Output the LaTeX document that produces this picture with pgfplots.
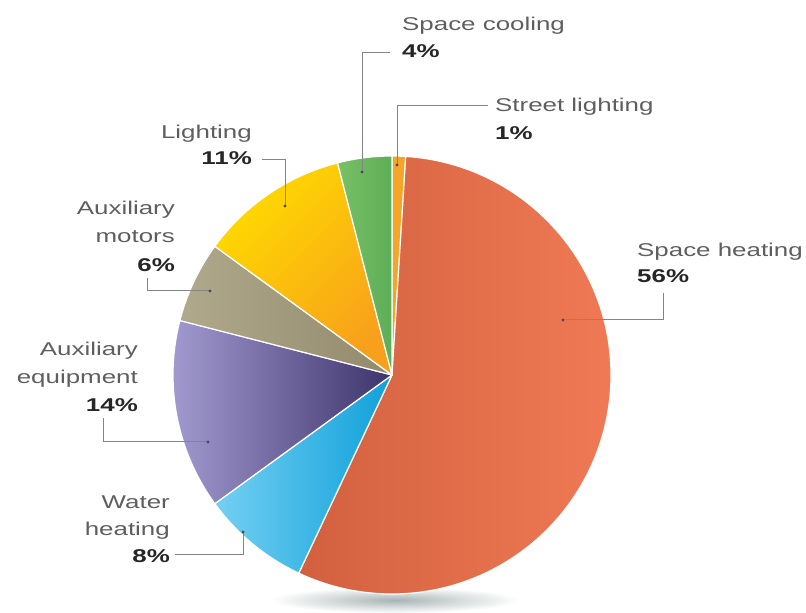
\documentclass[border=0pt]{standalone}
\usepackage{fontspec}
\usepackage{pgfplots}
\pgfplotsset{compat=1.18}
\newfontfamily\lbl[FakeStretch=1.4]{Liberation Sans}
\definecolor{slA}{HTML}{F5A52A}
\definecolor{shL}{HTML}{D2603F}\definecolor{shR}{HTML}{F07A55}
\definecolor{whL}{HTML}{74D0F2}\definecolor{whR}{HTML}{0FA0DA}
\definecolor{aeL}{HTML}{A59ED3}\definecolor{aeR}{HTML}{3E336C}
\definecolor{amL}{HTML}{B0A98C}\definecolor{amR}{HTML}{938A6C}
\definecolor{liL}{HTML}{FFDA00}\definecolor{liR}{HTML}{F8A01C}
\definecolor{scL}{HTML}{78C066}\definecolor{scR}{HTML}{5DAE57}
\definecolor{labgray}{HTML}{5E5E5E}
\definecolor{leader}{HTML}{858585}
\definecolor{shadowc}{HTML}{A9B4B4}
\def\cum{0}
% \slice{value in %}{left colour}{right colour}{shading angle}
\newcommand\slice[4]{%
  \pgfmathsetmacro\aS{90-3.6*\cum}%
  \pgfmathsetmacro\aE{90-3.6*(\cum+#1)}%
  \edef\doslice{\noexpand\shadedraw[left color=#2,right color=#3,shading angle=#4,draw=white,line width=1.2pt,line join=round]
    (axis cs:392,238) -- ++(\aS:219pt) arc[start angle=\aS,end angle=\aE,radius=219pt] -- cycle;}%
  \doslice
  \pgfmathsetmacro\cumnew{\cum+#1}\global\let\cum\cumnew
}
\tikzset{
  nm/.style={font=\lbl\fontsize{18.5}{20}\selectfont, text=labgray, inner sep=0pt},
  pc/.style={font=\lbl\bfseries\fontsize{18.5}{20}\selectfont, text=black!85, inner sep=0pt},
  ld/.style={draw=leader, line width=1pt},
}
\newcommand\dotat[1]{\fill[black!70] (axis cs:#1) circle[radius=1.6pt];}
\begin{document}
\begin{tikzpicture}
\begin{axis}[
  scale only axis, width=806pt, height=613pt,
  xmin=0, xmax=806, ymin=0, ymax=613,
  hide axis, clip=false,
]
\path (axis cs:0,0) rectangle (axis cs:806,613);
% shadow
\shade[inner color=shadowc, outer color=white] (axis cs:395,13) ellipse[x radius=125pt, y radius=13pt];
% slices, clockwise from the top
\slice{1}{slA}{slA}{90}   % Street lighting
\slice{56}{shL}{shR}{90}  % Space heating
\slice{8}{whL}{whR}{90}   % Water heating
\slice{14}{aeL}{aeR}{90}  % Auxiliary equipment
\slice{6}{amL}{amR}{90}   % Auxiliary motors
\slice{11}{liL}{liR}{45}  % Lighting
\slice{4}{scL}{scR}{90}   % Space cooling
% leader lines
\draw[ld] (axis cs:390,560) -- (axis cs:362,560) -- (axis cs:362,441); \dotat{362,441}
\draw[ld] (axis cs:488,507) -- (axis cs:397,507) -- (axis cs:397,448); \dotat{397,448}
\draw[ld] (axis cs:262,453) -- (axis cs:285,453) -- (axis cs:285,407); \dotat{285,407}
\draw[ld] (axis cs:147,335) -- (axis cs:147,322) -- (axis cs:210,322); \dotat{210,322}
\draw[ld] (axis cs:103,195) -- (axis cs:103,171) -- (axis cs:208,171); \dotat{208,171}
\draw[ld] (axis cs:175,58) -- (axis cs:243,58) -- (axis cs:243,81); \dotat{243,81}
\draw[ld] (axis cs:663,320) -- (axis cs:663,293) -- (axis cs:563,293); \dotat{563,293}
% labels
\node[nm, anchor=base west] at (axis cs:402,582) {Space cooling};
\node[pc, anchor=base west] at (axis cs:402,555) {4\%};
\node[nm, anchor=base west] at (axis cs:495,501) {Street lighting};
\node[pc, anchor=base west] at (axis cs:495,473) {1\%};
\node[nm, anchor=base west] at (axis cs:637,356) {Space heating};
\node[pc, anchor=base west] at (axis cs:637,330) {56\%};
\node[nm, anchor=base east] at (axis cs:252,474) {Lighting};
\node[pc, anchor=base east] at (axis cs:252,448) {11\%};
\node[nm, anchor=base east] at (axis cs:175,398) {Auxiliary};
\node[nm, anchor=base east] at (axis cs:175,370) {motors};
\node[pc, anchor=base east] at (axis cs:175,341) {6\%};
\node[nm, anchor=base east] at (axis cs:138,257) {Auxiliary};
\node[nm, anchor=base east] at (axis cs:138,229) {equipment};
\node[pc, anchor=base east] at (axis cs:138,201) {14\%};
\node[nm, anchor=base east] at (axis cs:170,104) {Water};
\node[nm, anchor=base east] at (axis cs:170,77) {heating};
\node[pc, anchor=base east] at (axis cs:170,50) {8\%};
\end{axis}
\end{tikzpicture}
\end{document}
